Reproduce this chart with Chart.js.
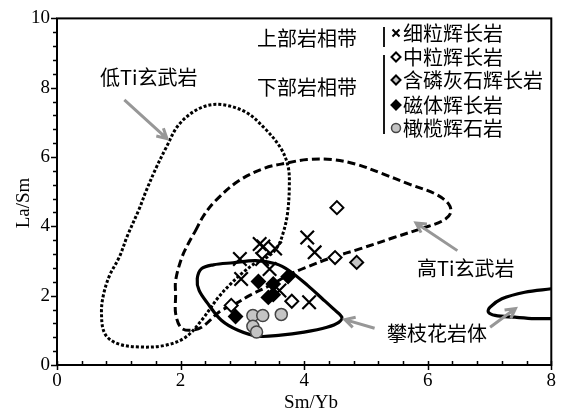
<!DOCTYPE html>
<html><head><meta charset="utf-8">
<script src="https://cdn.jsdelivr.net/npm/chart.js@4.4.1/dist/chart.umd.min.js"></script>
<style>html,body{margin:0;padding:0;background:#fff}#wrap{width:563px;height:414px}</style>
</head><body><div id="wrap"><canvas id="c" width="563" height="414"></canvas></div>
<script>
// ---- data ----
const xTickValues = [0, 2, 4, 6, 8];
const yTickValues = [0, 2, 4, 6, 8, 10];
const xTitle = 'Sm/Yb';
const yTitle = 'La/Sm';
const seriesNames = ['细粒辉长岩', '中粒辉长岩', '含磷灰石辉长岩', '磁体辉长岩', '橄榄辉石岩'];
const fineGabbro = [[2.96,3.06],[2.98,2.48],[3.28,3.49],[3.34,3.42],[3.53,3.36],[3.32,3.06],[3.44,2.77],[4.05,3.68],[4.17,3.25],[3.60,2.15],[4.08,1.81]];
const mediumGabbro = [[4.53,4.54],[3.80,1.84],[2.82,1.72],[4.50,3.10]];
const apatiteGabbro = [[4.85,2.96]];
const magnetiteGabbro = [[3.26,2.41],[3.50,2.34],[3.74,2.55],[3.42,1.95],[3.50,2.03],[2.89,1.40]];
const olivinePyroxenite = [[3.17,1.43],[3.33,1.43],[3.63,1.46],[3.17,1.12],[3.23,0.95]];
const lowTiField = [[2.61,7.52],[3.04,7.31],[3.36,6.83],[3.62,6.26],[3.74,5.73],[3.76,5.16],[3.73,4.36],[3.66,3.81],[3.57,3.41],[3.41,3.12],[3.22,2.95],[3.01,2.67],[2.80,2.32],[2.61,1.95],[2.34,1.29],[2.08,0.80],[1.76,0.57],[1.33,0.52],[0.96,0.63],[0.77,0.92],[0.72,1.49],[0.75,2.01],[0.85,2.58],[1.01,3.12],[1.14,3.73],[1.33,4.50],[1.44,5.01],[1.60,5.67],[1.76,6.25],[1.97,6.93],[2.29,7.39],[2.61,7.52]];
const highTiField = [[2.24,3.87],[2.37,4.30],[2.56,4.73],[2.93,5.30],[3.36,5.68],[3.73,5.83],[4.05,5.93],[4.45,5.93],[4.85,5.79],[5.25,5.53],[5.70,5.22],[6.13,4.93],[6.34,4.64],[6.37,4.38],[6.24,4.16],[5.92,3.95],[5.44,3.67],[4.90,3.35],[4.45,3.10],[4.02,2.81],[3.73,2.58],[3.44,2.29],[3.12,2.01],[2.90,1.78],[2.64,1.55],[2.34,1.09],[2.13,1.00],[2.00,1.09],[1.92,1.49],[1.92,2.01],[1.92,2.44],[2.02,3.10],[2.13,3.52],[2.24,3.87]];
const panzhihuaField = [[2.27,2.49],[2.34,2.78],[2.53,2.89],[2.85,2.95],[3.22,3.01],[3.54,2.92],[3.76,2.72],[4.06,2.29],[4.29,1.92],[4.48,1.61],[4.61,1.38],[4.56,1.23],[4.37,1.09],[4.00,0.95],[3.62,0.86],[3.25,0.83],[2.93,1.00],[2.66,1.29],[2.45,1.75],[2.30,2.15],[2.27,2.49]];
const panzhihuaRight = [[8.00,2.20],[7.57,2.10],[7.20,1.91],[7.01,1.67],[6.98,1.53],[7.09,1.43],[7.41,1.38],[7.73,1.34],[8.00,1.34]];
const fieldLabels = ['低Ti玄武岩', '高Ti玄武岩', '攀枝花岩体', '上部岩相带', '下部岩相带'];

const toXY = a => a.map(p => ({x: p[0], y: p[1]}));
// closed loop: wrap one point on each side so the spline is smooth at the seam; the wrap segments are hidden
const loopXY = a => toXY([a[a.length - 2], ...a, a[1]]);
const hideWrap = n => ({borderColor: c => (c.p0DataIndex === 0 || c.p1DataIndex === n + 1) ? 'rgba(0,0,0,0)' : undefined});
const GRAY = '#c4c4c4';

const pointSets = [
  {label: seriesNames[0], data: toXY(fineGabbro), pointStyle: 'crossRot', pointRadius: 9.5, borderColor: '#000', backgroundColor: '#000', borderWidth: 2, pointBorderWidth: 2.2},
  {label: seriesNames[1], data: toXY(mediumGabbro), pointStyle: 'rectRot', pointRadius: 6.5, borderColor: '#000', backgroundColor: '#fff', borderWidth: 2, pointBorderWidth: 2},
  {label: seriesNames[2], data: toXY(apatiteGabbro), pointStyle: 'rectRot', pointRadius: 6.5, borderColor: '#000', backgroundColor: GRAY, borderWidth: 2, pointBorderWidth: 2},
  {label: seriesNames[3], data: toXY(magnetiteGabbro), pointStyle: 'rectRot', pointRadius: 6.5, borderColor: '#000', backgroundColor: '#000', borderWidth: 2, pointBorderWidth: 2},
  {label: seriesNames[4], data: toXY(olivinePyroxenite), pointStyle: 'circle', pointRadius: 6, borderColor: '#444', backgroundColor: GRAY, borderWidth: 1.5, pointBorderWidth: 1.5}
];
const lineSets = [
  {label: 'lowTi', data: loopXY(lowTiField), segment: hideWrap(lowTiField.length), showLine: true, pointRadius: 0, borderColor: '#000', borderWidth: 3, borderDash: [3, 2], tension: 0.35, fill: false},
  {label: 'highTi', data: loopXY(highTiField), segment: hideWrap(highTiField.length), showLine: true, pointRadius: 0, borderColor: '#000', borderWidth: 3, borderDash: [8, 4], tension: 0.35, fill: false},
  {label: 'pzh', data: loopXY(panzhihuaField), segment: hideWrap(panzhihuaField.length), showLine: true, pointRadius: 0, borderColor: '#000', borderWidth: 3.2, tension: 0.35, fill: false},
  {label: 'pzh2', data: toXY(panzhihuaRight), showLine: true, pointRadius: 0, borderColor: '#000', borderWidth: 3.2, tension: 0.35, fill: false}
];

const CJK = '20px "Noto Sans CJK SC", sans-serif';
const SERIF = '"Liberation Serif", "DejaVu Serif", serif';

function arrow(ctx, x1, y1, x2, y2) {
  const ang = Math.atan2(y2 - y1, x2 - x1), L = 11;
  ctx.beginPath();
  ctx.moveTo(x1, y1); ctx.lineTo(x2, y2);
  ctx.moveTo(x2 - L * Math.cos(ang - 0.5), y2 - L * Math.sin(ang - 0.5));
  ctx.lineTo(x2, y2);
  ctx.lineTo(x2 - L * Math.cos(ang + 0.5), y2 - L * Math.sin(ang + 0.5));
  ctx.stroke();
}

const decor = {
  id: 'decor',
  afterDatasetsDraw(chart) {
    const ctx = chart.ctx, a = chart.chartArea, xs = chart.scales.x, ys = chart.scales.y;
    const X = v => xs.getPixelForValue(v), Y = v => ys.getPixelForValue(v);
    ctx.save();
    ctx.setLineDash([]);
    // frame
    ctx.strokeStyle = '#000'; ctx.lineWidth = 2;
    ctx.strokeRect(a.left, a.top, a.right - a.left, a.bottom - a.top);
    // ticks
    ctx.lineWidth = 1.5;
    ctx.beginPath();
    for (let i = 0; i <= 20; i++) {
      const v = i * 0.4, px = Math.round(X(v)) + 0.5;
      const major = Math.abs(v / 2 - Math.round(v / 2)) < 1e-6;
      if (major) { ctx.moveTo(px, a.bottom - 4); ctx.lineTo(px, a.bottom + 5); }
      else { ctx.moveTo(px, a.bottom - 4); ctx.lineTo(px, a.bottom); }
    }
    for (let i = 0; i <= 25; i++) {
      const v = i * 0.4, py = Math.round(Y(v)) + 0.5;
      const major = Math.abs(v / 2 - Math.round(v / 2)) < 1e-6;
      ctx.moveTo(a.left - (major ? 6 : 4), py); ctx.lineTo(a.left, py);
    }
    ctx.stroke();
    // arrows
    ctx.strokeStyle = '#979797'; ctx.lineWidth = 3; ctx.lineCap = 'butt';
    arrow(ctx, X(1.09), Y(7.65), X(1.78), Y(6.53));
    arrow(ctx, X(6.48), Y(3.30), X(5.81), Y(4.10));
    arrow(ctx, X(5.14), Y(1.06), X(4.66), Y(1.31));
    arrow(ctx, X(7.01), Y(1.09), X(7.42), Y(1.63));
    // field labels
    ctx.fillStyle = '#000'; ctx.font = CJK; ctx.textBaseline = 'middle'; ctx.textAlign = 'left';
    ctx.fillText(fieldLabels[0], 100, 77);
    ctx.fillText(fieldLabels[1], 417, 268);
    ctx.fillText(fieldLabels[2], 387, 333);
    ctx.fillText(fieldLabels[3], 257, 38);
    ctx.fillText(fieldLabels[4], 257, 87);
    // legend
    const rows = [33, 57, 80, 105, 128];
    ctx.strokeStyle = '#000'; ctx.lineWidth = 1.8;
    ctx.beginPath(); ctx.moveTo(384, 27); ctx.lineTo(384, 47); ctx.moveTo(384, 55); ctx.lineTo(384, 134); ctx.stroke();
    pointSets.forEach((ds, i) => {
      const cx = 396, cy = rows[i], r = 4.5;
      ctx.fillStyle = ds.backgroundColor; ctx.strokeStyle = ds.borderColor; ctx.lineWidth = 2;
      ctx.beginPath();
      if (ds.pointStyle === 'crossRot') { ctx.moveTo(cx - 3.5, cy - 3.5); ctx.lineTo(cx + 3.5, cy + 3.5); ctx.moveTo(cx + 3.5, cy - 3.5); ctx.lineTo(cx - 3.5, cy + 3.5); ctx.stroke(); }
      else if (ds.pointStyle === 'rectRot') { ctx.moveTo(cx, cy - r); ctx.lineTo(cx + r, cy); ctx.lineTo(cx, cy + r); ctx.lineTo(cx - r, cy); ctx.closePath(); ctx.fill(); ctx.stroke(); }
      else { ctx.arc(cx, cy, r, 0, Math.PI * 2); ctx.fill(); ctx.lineWidth = 1.5; ctx.stroke(); }
      ctx.fillStyle = '#000';
      ctx.fillText(ds.label, 403, cy);
    });
    // axis titles
    ctx.font = '19px ' + SERIF; ctx.textAlign = 'center';
    ctx.fillText(xTitle, 311, 403);
    ctx.save(); ctx.translate(24, 203); ctx.rotate(-Math.PI / 2); ctx.fillText(yTitle, 0, 0); ctx.restore();
    ctx.restore();
  }
};

new Chart(document.getElementById('c'), {
  type: 'scatter',
  data: {datasets: [...pointSets, ...lineSets]},
  options: {
    responsive: false, animation: false, devicePixelRatio: 1,
    layout: {padding: {top: 16, right: 6, left: 0, bottom: 0}},
    plugins: {legend: {display: false}, tooltip: {enabled: false}},
    scales: {
      x: {type: 'linear', min: 0, max: 8,
        afterBuildTicks: s => { s.ticks = xTickValues.map(v => ({value: v})); },
        ticks: {color: '#000', font: {family: SERIF, size: 19}, padding: 5},
        grid: {display: false, drawTicks: false}, border: {display: false},
        afterFit: s => { s.height = 49; }},
      y: {type: 'linear', min: 0, max: 10,
        afterBuildTicks: s => { s.ticks = yTickValues.map(v => ({value: v})); },
        ticks: {color: '#000', font: {family: SERIF, size: 19}, padding: 7},
        grid: {display: false, drawTicks: false}, border: {display: false},
        afterFit: s => { s.width = 57; }}
    }
  },
  plugins: [decor]
});
</script></body></html>
